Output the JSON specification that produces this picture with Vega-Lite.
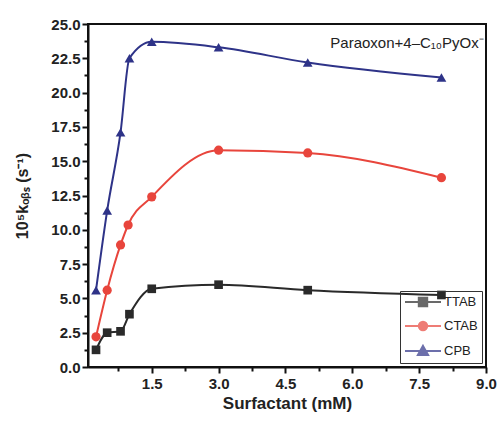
{
  "$schema": "https://vega.github.io/schema/vega-lite/v6.json",
  "width": 398,
  "height": 343,
  "autosize": "none",
  "padding": {"left": 88, "top": 24, "right": 13, "bottom": 56},
  "background": "white",
  "config": {
    "view": {"stroke": "#111", "strokeWidth": 2},
    "font": "Liberation Sans",
    "axis": {
      "domainColor": "#111", "domainWidth": 2, "tickColor": "#111", "tickWidth": 2,
      "labelFont": "Liberation Sans", "labelFontWeight": "bold", "labelFontSize": 15, "labelColor": "#222",
      "titleFont": "Liberation Sans", "titleFontWeight": "bold", "titleFontSize": 16, "titleColor": "#222",
      "grid": false, "labelOverlap": false, "labelFlush": false
    },
    "legend": {"orient": "bottom-right", "offset": 4, "title": null}
  },
  "data": {"values": [
    {"s": "TTAB", "x": 0.25, "y": 1.25},
    {"s": "TTAB", "x": 0.5, "y": 2.5},
    {"s": "TTAB", "x": 0.8, "y": 2.6},
    {"s": "TTAB", "x": 1.0, "y": 3.85},
    {"s": "TTAB", "x": 1.5, "y": 5.7},
    {"s": "TTAB", "x": 3.0, "y": 6.0},
    {"s": "TTAB", "x": 5.0, "y": 5.6},
    {"s": "TTAB", "x": 8.0, "y": 5.25},
    {"s": "CTAB", "x": 0.25, "y": 2.2},
    {"s": "CTAB", "x": 0.5, "y": 5.6},
    {"s": "CTAB", "x": 0.8, "y": 8.9},
    {"s": "CTAB", "x": 0.97, "y": 10.35},
    {"s": "CTAB", "x": 1.5, "y": 12.4},
    {"s": "CTAB", "x": 3.0, "y": 15.8},
    {"s": "CTAB", "x": 5.0, "y": 15.6},
    {"s": "CTAB", "x": 8.0, "y": 13.8},
    {"s": "CPB", "x": 0.25, "y": 5.6},
    {"s": "CPB", "x": 0.5, "y": 11.4},
    {"s": "CPB", "x": 0.8, "y": 17.1},
    {"s": "CPB", "x": 1.0, "y": 22.5},
    {"s": "CPB", "x": 1.5, "y": 23.7},
    {"s": "CPB", "x": 3.0, "y": 23.3},
    {"s": "CPB", "x": 5.0, "y": 22.2},
    {"s": "CPB", "x": 8.0, "y": 21.1}
  ]},
  "layer": [
    {
      "mark": {"type": "line", "interpolate": "monotone", "strokeWidth": 2},
      "encoding": {
        "x": {"field": "x", "type": "quantitative", "scale": {"domain": [0.07, 9], "nice": false, "zero": false},
              "axis": {"values": [0.75, 1.5, 2.25, 3, 3.75, 4.5, 5.25, 6, 6.75, 7.5, 8.25, 9], "tickCount": 40,
                       "labelExpr": "datum.value % 1.5 === 0 ? format(datum.value, '.1f') : ''",
                       "tickSize": {"condition": {"test": "datum.value % 1.5 === 0", "value": 6}, "value": 4},
                       "labelPadding": 3, "title": "Surfactant (mM)", "titleFontSize": 17, "titlePadding": 4}},
        "y": {"field": "y", "type": "quantitative", "scale": {"domain": [0, 25], "nice": false},
              "axis": {"values": [0, 1.25, 2.5, 3.75, 5, 6.25, 7.5, 8.75, 10, 11.25, 12.5, 13.75, 15, 16.25, 17.5, 18.75, 20, 21.25, 22.5, 23.75, 25], "tickCount": 40,
                       "labelExpr": "datum.value % 2.5 === 0 ? format(datum.value, '.1f') : ''",
                       "tickSize": {"condition": {"test": "datum.value % 2.5 === 0", "value": 6}, "value": 4},
                       "labelPadding": 2, "title": "10⁵kₒᵦₛ (s⁻¹)", "titlePadding": 20}},
        "color": {"field": "s", "type": "nominal", "scale": {"domain": ["TTAB", "CTAB", "CPB"], "range": ["#2a2a2a", "#e8453c", "#2e3388"]}}
      }
    },
    {
      "mark": {"type": "point", "filled": true, "size": 1},
      "encoding": {
        "x": {"field": "x", "type": "quantitative"},
        "y": {"field": "y", "type": "quantitative"},
        "color": {"field": "s", "type": "nominal"},
        "shape": {"field": "s", "type": "nominal",
                  "scale": {"domain": ["TTAB", "CTAB", "CPB"], "range": [
                    "M-1,0H5M1.3,-0.7H2.7V0.7H1.3Z",
                    "M-1,0H5M2.7,0A0.7,0.7,0,1,1,1.3,0A0.7,0.7,0,1,1,2.7,0Z",
                    "M-1,0H5M2,-0.85L2.85,0.65H1.15Z"]},
                  "legend": {"title": null, "orient": "bottom-right", "offset": 4,
                             "symbolSize": 144, "symbolStrokeWidth": 2, "labelFontSize": 13, "labelFont": "Liberation Sans",
                             "labelColor": "#222", "labelOffset": 26, "rowPadding": 6, "padding": 4,
                             "strokeColor": "#333",
                             "encode": {"symbols": {"update": {"opacity": {"value": 1}, "stroke": {"scale": "color", "field": "value"}, "fill": {"scale": "color", "field": "value"}}}}}}
      }
    },
    {
      "transform": [{"filter": "datum.s === 'TTAB'"}],
      "mark": {"type": "point", "shape": "square", "filled": true, "size": 75, "opacity": 1},
      "encoding": {
        "x": {"field": "x", "type": "quantitative"},
        "y": {"field": "y", "type": "quantitative"},
        "color": {"field": "s", "type": "nominal"}
      }
    },
    {
      "transform": [{"filter": "datum.s === 'CTAB'"}],
      "mark": {"type": "point", "shape": "circle", "filled": true, "size": 85, "opacity": 1},
      "encoding": {
        "x": {"field": "x", "type": "quantitative"},
        "y": {"field": "y", "type": "quantitative"},
        "color": {"field": "s", "type": "nominal"}
      }
    },
    {
      "transform": [{"filter": "datum.s === 'CPB'"}],
      "mark": {"type": "point", "shape": "triangle-up", "filled": true, "size": 95, "opacity": 1},
      "encoding": {
        "x": {"field": "x", "type": "quantitative"},
        "y": {"field": "y", "type": "quantitative"},
        "color": {"field": "s", "type": "nominal"}
      }
    },
    {
      "data": {"values": [{"x": 8.95, "y": 24.1, "t": "Paraoxon+4–C₁₀PyOx⁻"}]},
      "mark": {"type": "text", "align": "right", "baseline": "top", "fontSize": 15, "font": "Liberation Sans", "color": "#222"},
      "encoding": {
        "x": {"field": "x", "type": "quantitative"},
        "y": {"field": "y", "type": "quantitative"},
        "text": {"field": "t"}
      }
    }
  ]
}
